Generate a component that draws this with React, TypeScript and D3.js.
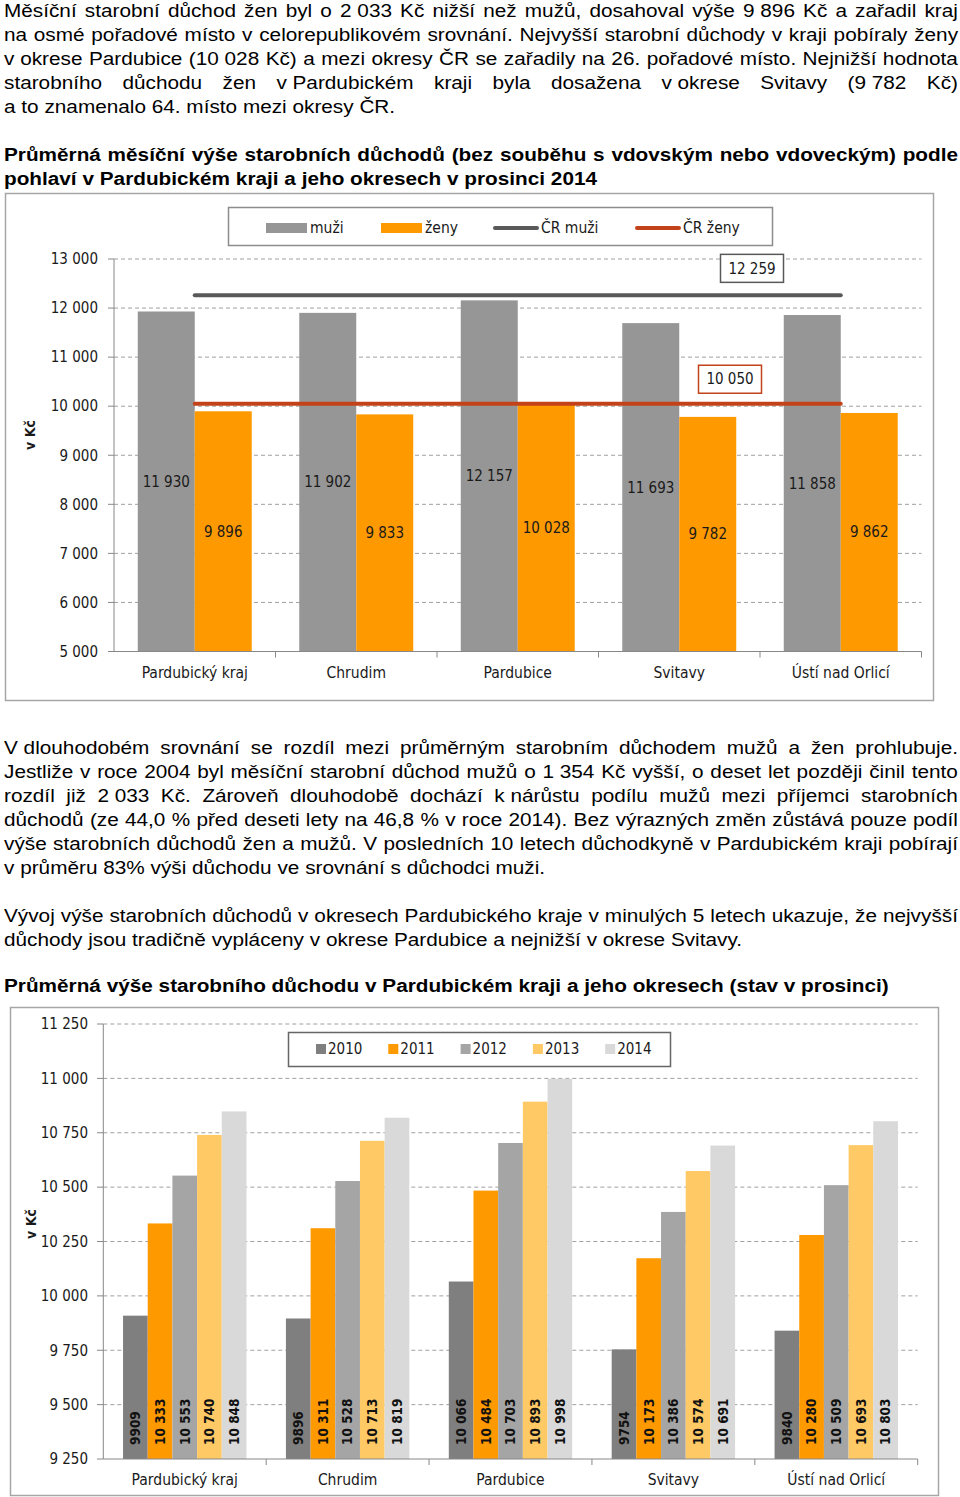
import React, { useLayoutEffect, useRef } from 'react';
import * as d3 from 'd3';

// okresy (kategorie obou grafů)
const districts = ['Pardubický kraj', 'Chrudim', 'Pardubice', 'Svitavy', 'Ústí nad Orlicí'];

// graf 1 - prosinec 2014, podle pohlaví
const genderSeries = ['muži', 'ženy'];
const men2014 = [11930, 11902, 12157, 11693, 11858];
const women2014 = [9896, 9833, 10028, 9782, 9862];
const crSeries = ['ČR muži', 'ČR ženy'];
const crValues = [12259, 10050];
const ticks1 = [5000, 6000, 7000, 8000, 9000, 10000, 11000, 12000, 13000];

// graf 2 - vývoj 2010-2014
const years = ['2010', '2011', '2012', '2013', '2014'];
const pension2010 = [9909, 9896, 10066, 9754, 9840];
const pension2011 = [10333, 10311, 10484, 10173, 10280];
const pension2012 = [10553, 10528, 10703, 10386, 10509];
const pension2013 = [10740, 10713, 10893, 10574, 10693];
const pension2014 = [10848, 10819, 10998, 10691, 10803];
const ticks2 = [9250, 9500, 9750, 10000, 10250, 10500, 10750, 11000, 11250];

// texty (\u00a0 = pevná mezera, při zarovnání se neroztahuje)
const para1 = [
  'Měsíční starobní důchod žen byl o 2\u00a0033 Kč nižší než mužů, dosahoval výše 9\u00a0896 Kč a zařadil kraj',
  'na osmé pořadové místo v celorepublikovém srovnání. Nejvyšší starobní důchody v kraji pobíraly ženy',
  'v\u00a0okrese Pardubice (10\u00a0028 Kč) a mezi okresy ČR se zařadily na 26. pořadové místo. Nejnižší hodnota',
  'starobního důchodu žen v\u00a0Pardubickém kraji byla dosažena v\u00a0okrese Svitavy (9\u00a0782 Kč)',
  'a to znamenalo 64. místo mezi okresy ČR.',
];
const title1 = [
  'Průměrná měsíční výše starobních důchodů (bez souběhu s vdovským nebo vdoveckým) podle',
  'pohlaví v Pardubickém kraji a jeho okresech v prosinci 2014',
];
const para2 = [
  'V\u00a0dlouhodobém srovnání se rozdíl mezi průměrným starobním důchodem mužů a žen prohlubuje.',
  'Jestliže v roce 2004 byl měsíční starobní důchod mužů o 1\u00a0354 Kč vyšší, o deset let později činil tento',
  'rozdíl již 2\u00a0033 Kč. Zároveň dlouhodobě dochází k\u00a0nárůstu podílu mužů mezi příjemci starobních',
  'důchodů (ze 44,0 % před deseti lety na 46,8 % v roce 2014). Bez výrazných změn zůstává pouze podíl',
  'výše starobních důchodů žen a mužů. V posledních 10 letech důchodkyně v Pardubickém kraji pobírají',
  'v průměru 83% výši důchodu ve srovnání s důchodci muži.',
];
const para3 = [
  'Vývoj výše starobních důchodů v okresech Pardubického kraje v minulých 5 letech ukazuje, že nejvyšší',
  'důchody jsou tradičně vypláceny v okrese Pardubice a nejnižší v okrese Svitavy.',
];
const title2 = ['Průměrná výše starobního důchodu v Pardubickém kraji a jeho okresech (stav v prosinci)'];

const genderColors = ['#969696', '#FF9900'];
const crColors = ['#595959', '#C4421A'];
const yearColors = ['#7F7F7F', '#FF9900', '#A5A5A5', '#FFC966', '#D9D9D9'];

const TEXT_FONT = "'Liberation Sans', Arial, sans-serif";
const CHART_FONT = "'DejaVu Sans Condensed', 'DejaVu Sans', sans-serif";
const SX = 1.11;
const FS = 18.7;

const cz = d3.formatLocale({ decimal: ',', thousands: '\u00a0', grouping: [3], currency: ['', ' Kč'] });
const fmt = cz.format(',d');
const fmtBar2 = (v: number) => (v < 10000 ? String(v) : fmt(v));

function Line({ text }: { text: string }) {
  const words = text.split(' ');
  return (
    <>
      {words.map((w, i) => (
        <React.Fragment key={i}>
          {i > 0 ? ' ' : ''}
          {w.includes('\u00a0') ? <tspan style={{ wordSpacing: 0 }}>{w}</tspan> : w}
        </React.Fragment>
      ))}
    </>
  );
}

function TextBlock({ lines, y0, bold, justified }: { lines: string[]; y0: number; bold?: boolean; justified: number }) {
  return (
    <g transform={`translate(4,0) scale(${SX},1)`} fontFamily={TEXT_FONT} fontSize={FS} fontWeight={bold ? 'bold' : 'normal'} fill="#000">
      {lines.map((t, i) => (
        <text key={i} x={0} y={y0 + i * 24} className={i < justified ? 'justify' : ''} data-width={954 / SX}>
          <Line text={t} />
        </text>
      ))}
    </g>
  );
}

function GenderChart() {
  const x0 = d3.scaleBand<string>().domain(districts).range([114, 921.5]);
  const xs = d3.scaleBand<string>().domain(genderSeries).range([0, x0.bandwidth()]).paddingOuter(0.417);
  const y = d3.scaleLinear().domain([5000, 13000]).range([651.5, 259]);
  const values = [men2014, women2014];
  const bw = x0.bandwidth();
  const lineGen = d3.line<string>().x(d => (x0(d) as number) + bw / 2);
  const ends = [districts[0], districts[districts.length - 1]];
  const boxX = [(x0(districts[4]) as number) - 8, (x0(districts[4]) as number) - 30];
  const boxDy = [27, 24.5];
  const legendX = [266, 381, 495, 637];

  return (
    <g fontFamily={CHART_FONT} style={{ fontStretch: 'condensed' }}>
      <rect x={5.5} y={193.5} width={928} height={507} fill="#fff" stroke="#a6a6a6" strokeWidth={1.5} />
      {ticks1.slice(1).map(t => (
        <line key={t} x1={114} x2={921.5} y1={y(t)} y2={y(t)} stroke="#a0a0a0" strokeDasharray="4,3" />
      ))}
      <line x1={114} x2={114} y1={y(13000)} y2={y(5000)} stroke="#888" />
      {ticks1.map(t => (
        <g key={t}>
          <line x1={108} x2={114} y1={y(t)} y2={y(t)} stroke="#888" />
          <text x={98} y={y(t)} dy="0.35em" textAnchor="end" fontSize={15} fill="#1a1a1a">{fmt(t)}</text>
        </g>
      ))}
      {genderSeries.map((s, si) =>
        districts.map((d, i) => {
          const v = values[si][i];
          const bx = (x0(d) as number) + (xs(s) as number);
          return (
            <g key={s + d}>
              <rect x={bx} y={y(v)} width={xs.bandwidth()} height={y(5000) - y(v)} fill={genderColors[si]} />
              <text x={bx + xs.bandwidth() / 2} y={(y(v) + y(5000)) / 2} dy="0.35em" textAnchor="middle" fontSize={15} fill="#1a1a1a">
                {fmt(v)}
              </text>
            </g>
          );
        })
      )}
      <line x1={114} x2={921.5} y1={y(5000)} y2={y(5000)} stroke="#888" />
      {districts.map(d => (
        <line key={d} x1={(x0(d) as number) + bw} x2={(x0(d) as number) + bw} y1={y(5000)} y2={y(5000) + 6} stroke="#888" />
      ))}
      {crValues.map((v, i) => (
        <path key={i} d={lineGen.y(() => y(v))(ends) as string} stroke={crColors[i]} strokeWidth={4} strokeLinecap="round" fill="none" />
      ))}
      {crValues.map((v, i) => (
        <g key={'b' + i}>
          <rect x={boxX[i] - 31.5} y={y(v) - boxDy[i] - 14} width={63} height={28} fill="#fff" stroke={crColors[i]} strokeWidth={1.5} />
          <text x={boxX[i]} y={y(v) - boxDy[i]} dy="0.35em" textAnchor="middle" fontSize={15} fill="#1a1a1a">{fmt(v)}</text>
        </g>
      ))}
      {districts.map(d => (
        <text key={d} x={(x0(d) as number) + bw / 2} y={673} dy="0.35em" textAnchor="middle" fontSize={15.5} fill="#1a1a1a">{d}</text>
      ))}
      <text transform="translate(30,435) rotate(-90)" textAnchor="middle" dy="0.35em" fontSize={14} fontWeight="bold" fill="#1a1a1a">v Kč</text>
      <rect x={228.5} y={207.5} width={544} height={38} fill="#fff" stroke="#8c8c8c" strokeWidth={1.5} />
      {genderSeries.map((s, i) => (
        <g key={s}>
          <rect x={legendX[i]} y={223} width={41} height={10} fill={genderColors[i]} />
          <text x={legendX[i] + 44} y={228} dy="0.35em" fontSize={15.5} fill="#1a1a1a">{s}</text>
        </g>
      ))}
      {crSeries.map((s, i) => (
        <g key={s}>
          <line x1={legendX[i + 2]} x2={legendX[i + 2] + 42} y1={228} y2={228} stroke={crColors[i]} strokeWidth={4} strokeLinecap="round" />
          <text x={legendX[i + 2] + 46} y={228} dy="0.35em" fontSize={15.5} fill="#1a1a1a">{s}</text>
        </g>
      ))}
    </g>
  );
}

function TrendChart() {
  const x0 = d3.scaleBand<string>().domain(districts).range([103.3, 917.7]);
  const xs = d3.scaleBand<string>().domain(years).range([0, x0.bandwidth()]).paddingOuter(0.8);
  const y = d3.scaleLinear().domain([9250, 11250]).range([1459, 1024]);
  const values = [pension2010, pension2011, pension2012, pension2013, pension2014];
  const bw = x0.bandwidth();
  const base = y(9250);

  return (
    <g fontFamily={CHART_FONT} style={{ fontStretch: 'condensed' }}>
      <rect x={10.5} y={1007.5} width={928} height={488} fill="#fff" stroke="#a6a6a6" strokeWidth={1.5} />
      {ticks2.slice(1).map(t => (
        <line key={t} x1={103.3} x2={917.7} y1={y(t)} y2={y(t)} stroke="#a0a0a0" strokeDasharray="4,3" />
      ))}
      <line x1={103.3} x2={103.3} y1={y(11250)} y2={base} stroke="#888" />
      {ticks2.map(t => (
        <g key={t}>
          <line x1={97} x2={103.3} y1={y(t)} y2={y(t)} stroke="#888" />
          <text x={88} y={y(t)} dy="0.35em" textAnchor="end" fontSize={15} fill="#1a1a1a">{fmt(t)}</text>
        </g>
      ))}
      {years.map((yr, si) =>
        districts.map((d, i) => {
          const v = values[si][i];
          const bx = (x0(d) as number) + (xs(yr) as number);
          return (
            <g key={yr + d}>
              <rect x={bx} y={y(v)} width={xs.bandwidth()} height={base - y(v)} fill={yearColors[si]} />
              <text
                transform={`translate(${bx + xs.bandwidth() / 2},${base - 14}) rotate(-90)`}
                dy="0.36em"
                fontFamily="'DejaVu Sans', sans-serif"
                fontWeight="bold"
                fontSize={13.5}
                fill="#111"
              >
                {fmtBar2(v)}
              </text>
            </g>
          );
        })
      )}
      <line x1={103.3} x2={917.7} y1={base} y2={base} stroke="#888" />
      {districts.map(d => (
        <line key={d} x1={(x0(d) as number) + bw} x2={(x0(d) as number) + bw} y1={base} y2={base + 6} stroke="#888" />
      ))}
      {districts.map(d => (
        <text key={d} x={(x0(d) as number) + bw / 2} y={1480} dy="0.35em" textAnchor="middle" fontSize={15.5} fill="#1a1a1a">{d}</text>
      ))}
      <text transform="translate(31,1224) rotate(-90)" textAnchor="middle" dy="0.35em" fontSize={14} fontWeight="bold" fill="#1a1a1a">v Kč</text>
      <rect x={288.5} y={1032.5} width={382} height={34} fill="#fff" stroke="#666" strokeWidth={1.5} />
      {years.map((yr, i) => (
        <g key={yr}>
          <rect x={316 + i * 72.3} y={1044} width={10} height={10} fill={yearColors[i]} />
          <text x={328 + i * 72.3} y={1049} dy="0.35em" fontSize={15} fill="#1a1a1a">{yr}</text>
        </g>
      ))}
    </g>
  );
}

export default function App() {
  const ref = useRef<SVGSVGElement>(null);

  useLayoutEffect(() => {
    if (!ref.current) return;
    // zarovnání do bloku - rozpočítat mezery mezi slova (jen běžné mezery)
    d3.select(ref.current)
      .selectAll<SVGTextElement, unknown>('text.justify')
      .each(function () {
        this.setAttribute('word-spacing', '0');
        const w = this.getComputedTextLength();
        const target = +(this.getAttribute('data-width') || 0);
        const spaces = ((this.textContent || '').match(/ /g) || []).length;
        if (spaces > 0) this.setAttribute('word-spacing', String((target - w) / spaces));
      });
  }, []);

  return (
    <svg ref={ref} width={960} height={1497} style={{ position: 'absolute', left: 0, top: 0, display: 'block', background: '#fff' }}>
      <TextBlock lines={para1} y0={17.5} justified={4} />
      <TextBlock lines={title1} y0={161} bold justified={1} />
      <GenderChart />
      <TextBlock lines={para2} y0={754} justified={5} />
      <TextBlock lines={para3} y0={922} justified={1} />
      <TextBlock lines={title2} y0={992} bold justified={0} />
      <TrendChart />
    </svg>
  );
}
